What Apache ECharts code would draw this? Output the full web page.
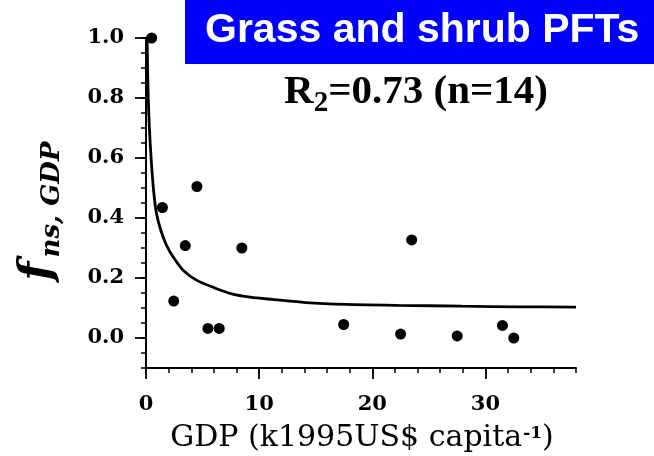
<!DOCTYPE html>
<html>
<head>
<meta charset="utf-8">
<script src="https://cdn.jsdelivr.net/npm/echarts@6/dist/echarts.min.js"></script>
<style>
  html, body { margin: 0; padding: 0; background: #fff; }
  #chart { width: 654px; height: 456px; }
</style>
</head>
<body>
<div id="chart"></div>
<script>
// observed points (GDP, f_ns)
const gdp = [0.5, 1.45, 2.45, 3.47, 4.5, 5.47, 6.47, 8.47, 17.47, 22.5, 23.48, 27.5, 31.5, 32.5]
const fns = [1.0, 0.435, 0.123, 0.308, 0.505, 0.032, 0.032, 0.300, 0.045, 0.013, 0.327, 0.007, 0.042, 0.0]

// fitted curve
const fitX = [0.1, 0.15, 0.2, 0.3, 0.45, 0.65, 0.9, 1.3, 1.8, 2.4, 3.3, 4.5, 6, 7.5, 9.2, 11.3, 14.1, 17.7, 22.3, 27.9, 33, 38]
const fitY = [1.0, 0.88, 0.8, 0.70, 0.60, 0.50, 0.42, 0.36, 0.31, 0.27, 0.225, 0.192, 0.168, 0.148, 0.136, 0.128, 0.118, 0.112, 0.109, 0.106, 0.104, 0.103]

// axis ranges
const xMax = 38
const yMin = -0.1
const yMax = 1.0
const xMajorMax = 30 // last labelled x tick
const yMajorMin = 0 // first labelled y tick

// plot box in px
const plot = { left: 146, right: 78, top: 38, bottom: 88 }
const plotW = 654 - plot.left - plot.right
const plotH = 456 - plot.top - plot.bottom
const pxPerX = plotW / xMax
const pxPerY = plotH / (yMax - yMin)

const labelFont = {
  color: '#000',
  fontFamily: 'DejaVu Serif',
  fontWeight: 'bold',
  fontSize: 21
}

const axisLine = { show: true, onZero: false, lineStyle: { color: '#000', width: 2 } }
const minorTick = { show: true, length: 5, lineStyle: { color: '#000', width: 1.5 } }
const majorTick = { show: true, length: 11, lineStyle: { color: '#000', width: 1.8 } }
const hidden = { type: 'value', show: false }

const chart = echarts.init(document.getElementById('chart'))

const option = {
  animation: false,
  grid: [
    // main plot
    { ...plot },
    // major y ticks: 0.0 .. 1.0
    { left: plot.left, right: plot.right, top: plot.top, bottom: plot.bottom + (yMajorMin - yMin) * pxPerY },
    // major x ticks: 0 .. 30
    { left: plot.left, right: plot.right + (xMax - xMajorMax) * pxPerX, top: plot.top, bottom: plot.bottom }
  ],
  xAxis: [
    {
      type: 'value', gridIndex: 0,
      min: 0, max: xMax, interval: 2,
      axisLine, axisTick: minorTick,
      axisLabel: { show: false },
      splitLine: { show: false }
    },
    { ...hidden, gridIndex: 1, min: 0, max: 1 },
    {
      type: 'value', gridIndex: 2,
      min: 0, max: xMajorMax, interval: 10,
      axisLine, axisTick: majorTick,
      axisLabel: { margin: 26, ...labelFont },
      splitLine: { show: false }
    }
  ],
  yAxis: [
    {
      type: 'value', gridIndex: 0,
      min: yMin, max: yMax, interval: 0.05,
      axisLine, axisTick: minorTick,
      axisLabel: { show: false },
      splitLine: { show: false }
    },
    {
      type: 'value', gridIndex: 1,
      min: yMajorMin, max: yMax, interval: 0.2,
      axisLine, axisTick: majorTick,
      axisLabel: { margin: 22, formatter: v => v.toFixed(1), ...labelFont },
      splitLine: { show: false }
    },
    { ...hidden, gridIndex: 2, min: 0, max: 1 }
  ],
  graphic: [
    {
      type: 'rect',
      shape: { x: 185, y: 0, width: 469, height: 64 },
      style: { fill: '#0000ff' }
    },
    {
      type: 'text',
      x: 205,
      y: 31,
      style: {
        text: 'Grass and shrub PFTs',
        fill: '#fff',
        font: 'bold 41px "Liberation Sans", Arial, sans-serif',
        textVerticalAlign: 'middle'
      }
    },
    {
      type: 'text',
      x: 416,
      y: 72,
      style: {
        text: '{m|R}{s|2}{m|=0.73 (n=14)}',
        align: 'center',
        rich: {
          m: { fontFamily: 'Liberation Serif', fontWeight: 'bold', fontSize: 41, lineHeight: 42, verticalAlign: 'top', fill: '#000' },
          s: { fontFamily: 'Liberation Serif', fontWeight: 'bold', fontSize: 29, lineHeight: 29, verticalAlign: 'top', padding: [17, 0, 0, 0], fill: '#000' }
        }
      }
    },
    {
      type: 'text',
      x: 40,
      y: 211,
      rotation: Math.PI / 2,
      style: {
        text: '{f|f}{s|ns, GDP}',
        align: 'center',
        verticalAlign: 'middle',
        rich: {
          f: { fontFamily: 'DejaVu Serif', fontStyle: 'italic', fontWeight: 'bold', fontSize: 44, lineHeight: 46, verticalAlign: 'top', fill: '#000' },
          s: { fontFamily: 'DejaVu Serif', fontStyle: 'italic', fontWeight: 'bold', fontSize: 26, lineHeight: 26, verticalAlign: 'top', padding: [22, 0, 0, 4], fill: '#000' }
        }
      }
    },
    {
      type: 'text',
      x: 362,
      y: 440,
      style: {
        text: '{m|GDP (k1995US$ capita}{p|-1}{m|)}',
        align: 'center',
        verticalAlign: 'middle',
        rich: {
          m: { fontFamily: 'DejaVu Serif', fontSize: 30, lineHeight: 34, verticalAlign: 'top', fill: '#000' },
          p: { fontFamily: 'DejaVu Serif', fontWeight: 'bold', fontSize: 17, lineHeight: 17, verticalAlign: 'top', padding: [2, 0, 0, 1], fill: '#000' }
        }
      }
    }
  ],
  series: [
    {
      type: 'line',
      xAxisIndex: 0,
      yAxisIndex: 0,
      data: fitX.map((x, i) => [x, fitY[i]]),
      smooth: 0.3,
      showSymbol: false,
      clip: false,
      lineStyle: { color: '#000', width: 2.8 }
    },
    {
      type: 'scatter',
      xAxisIndex: 0,
      yAxisIndex: 0,
      data: gdp.map((x, i) => [x, fns[i]]),
      symbolSize: 11,
      clip: false,
      itemStyle: { color: '#000', opacity: 1 }
    }
  ]
}

chart.setOption(option)
</script>
</body>
</html>
